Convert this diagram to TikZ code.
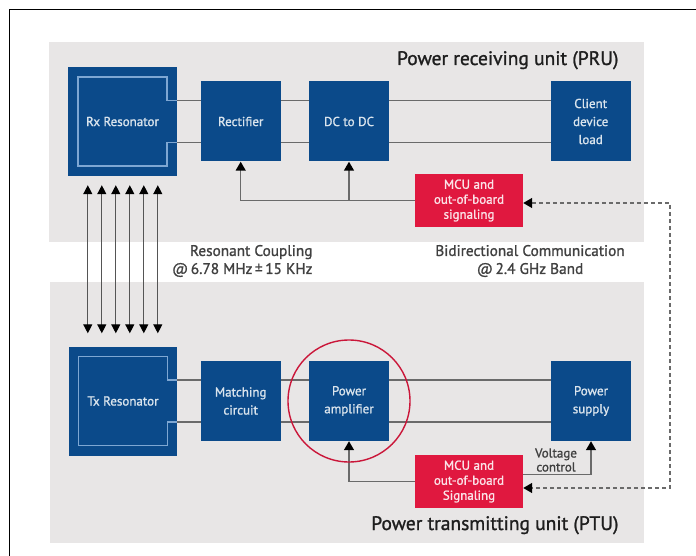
\documentclass[tikz,border=0pt]{standalone}
\usepackage{fontspec}
\setmainfont{PT Sans}[FakeBold=1.2]
\usepackage{tikz}
\usetikzlibrary{arrows.meta,calc}
\definecolor{navy}{HTML}{0B4A8A}
\definecolor{crimson}{HTML}{E0183F}
\definecolor{panel}{HTML}{E8E6E6}
\definecolor{coilblue}{HTML}{7EA7D3}
\definecolor{wiregray}{HTML}{6A6A6A}
\definecolor{ink}{HTML}{1E1E1E}
\tikzset{blk/.style={fill=navy,text=white!85!navy,align=center,font=\fontsize{13}{18}\selectfont,inner sep=0pt,minimum width=80,minimum height=80},mcu/.style={fill=crimson,text=white!88!crimson,align=center,font=\fontsize{13}{15}\selectfont,inner sep=0pt,minimum width=108,minimum height=53},wire/.style={draw=wiregray,line width=1.4pt},sig/.style={wire,-{Triangle[width=10pt,length=9pt,color=black]}},comm/.style={wire,dashed,dash pattern=on 4pt off 3pt,{Triangle[width=10pt,length=9pt,color=black]}-{Triangle[width=10pt,length=9pt,color=black]}},coupl/.style={draw=wiregray!80!black,line width=1.3pt,{Triangle[width=9pt,length=9pt,color=black]}-{Triangle[width=9pt,length=9pt,color=black]}},coil/.style={draw=coilblue,line width=1.3pt},unit/.style={text=ink,font=\fontsize{19.5}{21}\selectfont,anchor=base east},note/.style={text=ink!85,font=\fontsize{15.3}{18}\selectfont}}

\begin{document}
\begin{tikzpicture}[x=1pt,y=-1pt]
\useasboundingbox (0,0) rectangle (696,556);
\draw[line width=1pt] (9,556) |- (696,10);
\fill[panel] (49,42) rectangle (644,242);
\fill[panel] (50,282) rectangle (644,543);
\node[blk,minimum width=109,minimum height=109] (rx) at (122.5,121.5) {Rx Resonator};
\node[blk] (rect) at (240.7,121.5) {Rectifier};
\node[blk] (dcdc) at (349,121.5) {DC to DC};
\node[blk] (load) at (590.7,121.5) {Client\\device\\load};
\node[mcu] (mcur) at (469,200.5) {MCU and\\out-of-board\\signaling};
\node[blk,minimum width=108,minimum height=109] (tx) at (123,401) {Tx Resonator};
\node[blk] (match) at (240.7,401) {Matching\\circuit};
\node[blk] (pa) at (349,401) {Power\\amplifier};
\node[blk] (psup) at (591,401) {Power\\supply};
\node[mcu] (mcut) at (469,481.5) {MCU and\\out-of-board\\Signaling};
\node[unit] (prutitle) at (622,65) {Power receiving unit (PRU)};
\node[unit] (ptutitle) at (622,530) {Power transmitting unit (PTU)};
\node[note,align=right,anchor=east] (rescoup) at (316,261) {Resonant Coupling\\@\,6.78 MHz\,±\,15 KHz};
\node[note,align=center] (bidir) at (530,261) {Bidirectional Communication\\@\,2.4 GHz Band};
\node[text=ink!85,align=center,font=\fontsize{13}{14}\selectfont] (vctrl) at (556,460) {Voltage\\control};
\foreach \n in {rx,tx}
 {\draw[coil] ($(\n.center)+(54.5,-21)$) -- ($(\n.center)+(44.5,-21)$) |- ($(\n.center)+(-44.5,-44.5)$) |- ($(\n.center)+(44.5,44.5)$) -- ($(\n.center)+(44.5,21)$) -- ($(\n.center)+(54.5,21)$);}
\foreach \s in {-21,21}
 {\draw[wire] ($(rx.east)+(0,\s)$) -- ($(rect.west)+(0,\s)$);
  \draw[wire] ($(rect.east)+(0,\s)$) -- ($(dcdc.west)+(0,\s)$);
  \draw[wire] ($(dcdc.east)+(0,\s)$) -- ($(load.west)+(0,\s)$);
  \draw[wire] ($(tx.east)+(0,\s)$) -- ($(match.west)+(0,\s)$);
  \draw[wire] ($(match.east)+(0,\s)$) -- ($(pa.west)+(0,\s)$);
  \draw[wire] ($(pa.east)+(0,\s)$) -- ($(psup.west)+(0,\s)$);}
\draw[sig] (mcur.west) -| (rect.south);
\draw[sig] (dcdc.south |- mcur.west) -- (dcdc.south);
\draw[sig] (mcut.west) -| (pa.south);
\draw[sig] ([yshift=7]mcut.east) -| (psup.south);
\coordinate (bend) at (670,203);
\draw[comm] ([yshift=-2.5]mcur.east) -- (bend) |- ([yshift=-6.5]mcut.east);
\foreach \x in {0,...,5}
 {\draw[coupl] ($(rx.south west)+(20+14*\x,9)$) -- ($(tx.north west)+(19+14*\x,-13)$);}
\draw[draw=crimson!90!black,line width=1.4pt] (pa.center) circle[radius=61];
\end{tikzpicture}
\end{document}
